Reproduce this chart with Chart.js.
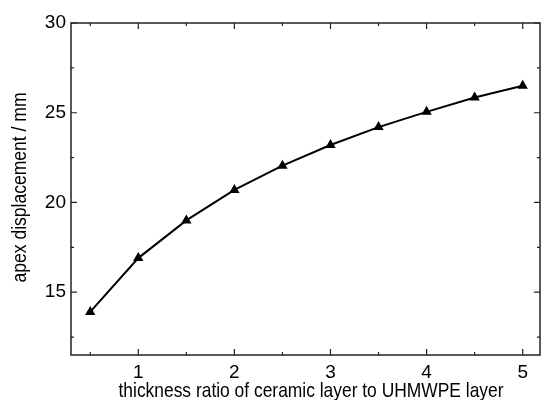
<!DOCTYPE html>
<html>
<head>
<meta charset="utf-8">
<script src="https://cdn.jsdelivr.net/npm/chart.js@4"></script>
<style>
  html, body { margin: 0; padding: 0; background: #fff; }
  #wrap { width: 546px; height: 400px; }
</style>
</head>
<body>
<div id="wrap"><canvas id="apexChart"></canvas></div>
<script>
// data
const thicknessRatio = [0.5, 1, 1.5, 2, 2.5, 3, 3.5, 4, 4.5, 5];
const apexDisplacement = [13.9, 16.9, 19.0, 20.7, 22.05, 23.2, 24.2, 25.05, 25.85, 26.5];
const xTickLabels = ['1', '2', '3', '4', '5'];
const yTickLabels = ['15', '20', '25', '30'];
const xTitle = 'thickness ratio of ceramic layer to UHMWPE layer';
const yTitle = 'apex displacement / mm';

const FONT = "'Liberation Sans', Arial, sans-serif";

// inward ticks on all four sides + frame, narrow axis titles
const frameTicks = {
    id: 'frameTicks',
    afterDraw(chart) {
        const { ctx, chartArea: a, scales } = chart;
        ctx.save();
        ctx.strokeStyle = '#222';
        ctx.lineWidth = 1.5;
        ctx.strokeRect(a.left, a.top, a.right - a.left, a.bottom - a.top);
        ctx.lineWidth = 1.2;
        ctx.beginPath();
        scales.x.ticks.forEach(t => {
            const px = scales.x.getPixelForValue(t.value);
            const len = Number.isInteger(t.value) ? 6 : 3;
            ctx.moveTo(px, a.bottom); ctx.lineTo(px, a.bottom - len);
            ctx.moveTo(px, a.top); ctx.lineTo(px, a.top + len);
        });
        scales.y.ticks.forEach(t => {
            const py = scales.y.getPixelForValue(t.value);
            const len = t.value % 5 === 0 ? 6 : 3;
            ctx.moveTo(a.left, py); ctx.lineTo(a.left + len, py);
            ctx.moveTo(a.right, py); ctx.lineTo(a.right - len, py);
        });
        ctx.stroke();

        ctx.fillStyle = '#000';
        ctx.font = '21px ' + FONT;
        ctx.textAlign = 'center';
        ctx.textBaseline = 'alphabetic';
        let w = ctx.measureText(xTitle).width;
        ctx.save();
        ctx.translate(311, 397);
        ctx.scale(385 / w, 1);
        ctx.fillText(xTitle, 0, 0);
        ctx.restore();

        ctx.font = '20px ' + FONT;
        w = ctx.measureText(yTitle).width;
        ctx.save();
        ctx.translate(26, 187.5);
        ctx.rotate(-Math.PI / 2);
        ctx.scale(190 / w, 1);
        ctx.fillText(yTitle, 0, 0);
        ctx.restore();
        ctx.restore();
    }
};

const ctx = document.getElementById('apexChart').getContext('2d');
new Chart(ctx, {
    type: 'line',
    data: {
        datasets: [{
            data: thicknessRatio.map((x, i) => ({ x: x, y: apexDisplacement[i] })),
            borderColor: '#000',
            borderWidth: 2,
            backgroundColor: '#000',
            pointStyle: 'triangle',
            pointRadius: 6,
            pointBorderWidth: 0,
            tension: 0,
            fill: false
        }]
    },
    options: {
        responsive: true,
        maintainAspectRatio: false,
        animation: false,
        layout: { padding: { top: 23, right: 3, left: 0, bottom: 0 } },
        plugins: { legend: { display: false }, tooltip: { enabled: false } },
        scales: {
            x: {
                type: 'linear',
                min: 0.3,
                max: 5.18,
                afterBuildTicks(scale) {
                    scale.ticks = thicknessRatio.map(v => ({ value: v }));
                },
                afterFit(scale) { scale.height = 45; },
                grid: { display: false, drawTicks: false },
                border: { display: false },
                ticks: {
                    color: '#000',
                    padding: 6,
                    maxRotation: 0,
                    autoSkip: false,
                    font: { family: FONT, size: 19 },
                    callback: v => xTickLabels.includes(String(v)) ? String(v) : ''
                }
            },
            y: {
                min: 11.5,
                max: 30,
                afterBuildTicks(scale) {
                    const vals = [12.5, 15, 17.5, 20, 22.5, 25, 27.5, 30];
                    scale.ticks = vals.map(v => ({ value: v }));
                },
                afterFit(scale) { scale.width = 71; },
                grid: { display: false, drawTicks: false },
                border: { display: false },
                ticks: {
                    color: '#000',
                    padding: 5,
                    autoSkip: false,
                    font: { family: FONT, size: 19 },
                    callback: v => yTickLabels.includes(String(v)) ? String(v) : ''
                }
            }
        }
    },
    plugins: [frameTicks]
});
</script>
</body>
</html>
